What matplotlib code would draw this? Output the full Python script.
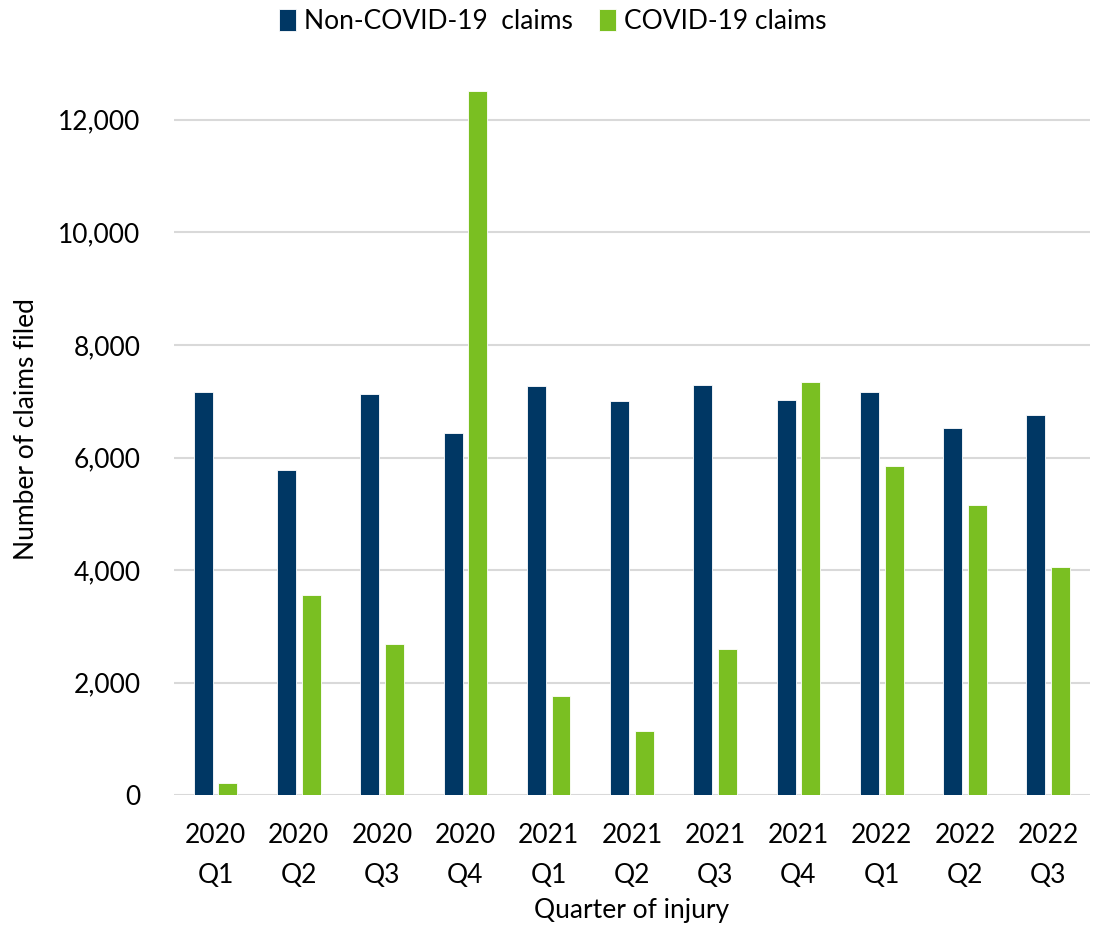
import matplotlib
matplotlib.use("Agg")
import matplotlib.pyplot as plt
import numpy as np
from matplotlib.ticker import FuncFormatter

plt.rcParams['font.family'] = ['Lato', 'DejaVu Sans']

quarters = ["2020\nQ1", "2020\nQ2", "2020\nQ3", "2020\nQ4", "2021\nQ1", "2021\nQ2",
            "2021\nQ3", "2021\nQ4", "2022\nQ1", "2022\nQ2", "2022\nQ3"]
non_covid = [7170, 5775, 7130, 6435, 7270, 7005, 7280, 7025, 7160, 6525, 6750]
covid = [220, 3565, 2680, 12510, 1760, 1140, 2605, 7340, 5855, 5150, 4060]

fig = plt.figure(figsize=(10.94, 9.33), dpi=100)
ax = fig.add_axes([0.159, 0.1476, 0.8373, 0.7844])

x = np.arange(len(quarters))
w = 0.228
gap = 0.068
ax.bar(x - (w + gap) / 2, non_covid, w, color="#003764", edgecolor="white",
       linewidth=0.6, label="Non-COVID-19  claims", zorder=3)
ax.bar(x + (w + gap) / 2, covid, w, color="#7ABF22", edgecolor="white",
       linewidth=0.6, label="COVID-19 claims", zorder=3)

ax.set_xlim(-0.5, len(quarters) - 0.5)
ax.set_ylim(0, 13000)
ax.set_yticks(np.arange(0, 12001, 2000))
ax.yaxis.set_major_formatter(FuncFormatter(lambda v, p: f"{int(v):,}"))
ax.set_xticks(x)
ax.set_xticklabels(quarters, linespacing=1.75)
ax.grid(axis="y", color="#D9D9D9", linewidth=1.5, zorder=0)
for s in ["top", "right", "left", "bottom"]:
    ax.spines[s].set_visible(False)
ax.tick_params(axis="both", length=0, labelsize=19, colors="black")
ax.tick_params(axis="y", pad=24)
ax.tick_params(axis="x", pad=20)

ax.set_ylabel("Number of claims filed", fontsize=19, labelpad=14)
ax.set_xlabel("Quarter of injury", fontsize=19, labelpad=7)

leg = fig.legend(loc="upper center", bbox_to_anchor=(0.505, 1.016), ncol=2,
                 frameon=False, fontsize=19, handlelength=0.65, handleheight=0.9,
                 handletextpad=0.3, columnspacing=1.0)

fig.savefig("out.png", dpi=100)
